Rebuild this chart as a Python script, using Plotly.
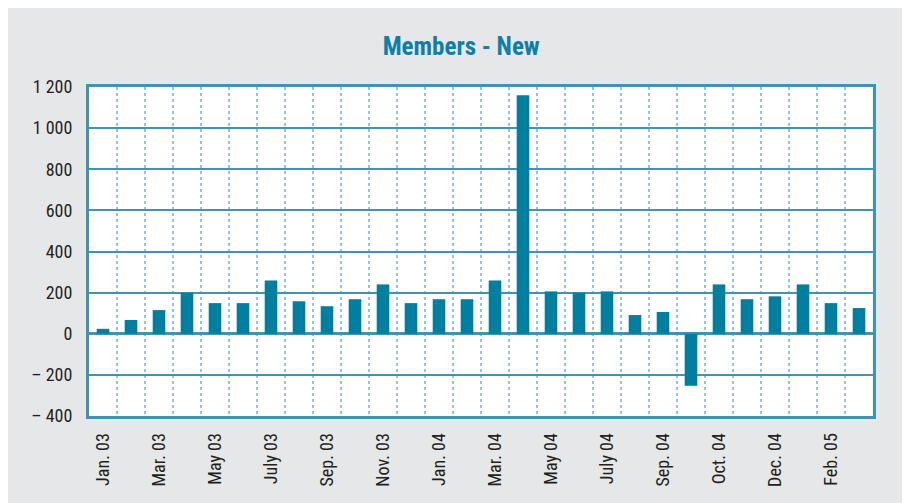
import plotly.graph_objects as go

months = ["Jan. 03", "Feb. 03", "Mar. 03", "Apr. 03", "May 03", "June 03", "July 03",
          "Aug. 03", "Sep. 03", "Oct. 03", "Nov. 03", "Dec. 03",
          "Jan. 04", "Feb. 04", "Mar. 04", "Apr. 04", "May 04", "June 04", "July 04",
          "Aug. 04", "Sep. 04", "Sep. 04 (2)", "Oct. 04", "Nov. 04", "Dec. 04",
          "Jan. 05", "Feb. 05", "Mar. 05"]
new_members = [24, 67, 115, 200, 149, 149, 259, 158, 134, 168, 240, 149,
               168, 168, 259, 1160, 206, 200, 206, 91, 106, -253, 240, 168,
               182, 240, 149, 125]
shown_labels = ["Jan. 03", "Mar. 03", "May 03", "July 03", "Sep. 03", "Nov. 03",
                "Jan. 04", "Mar. 04", "May 04", "July 04", "Sep. 04", "Oct. 04",
                "Dec. 04", "Feb. 05"]
y_ticks = [-400, -200, 0, 200, 400, 600, 800, 1000, 1200]
y_tick_text = ["\u2013 400", "\u2013 200", "0", "200", "400", "600", "800", "1 000", "1 200"]

FONT = "Liberation Sans Narrow, Arial Narrow, Roboto Condensed, sans-serif"
TEAL = "#007fa0"
GRID = "#3f93b3"

fig = go.Figure(go.Bar(
    x=months, y=new_members, marker_color=TEAL, marker_line_width=0, width=0.45,
))

fig.update_layout(
    width=910, height=503,
    margin=dict(l=81, r=45, t=79, b=95),
    paper_bgcolor="#e6e7e8", plot_bgcolor="white",
    showlegend=False,
    title=dict(text="<b>Members - New</b>", x=0.498, xanchor="center", y=0.924, yanchor="middle",
               font=dict(family=FONT, size=25, color="#0e7fa6")),
    font=dict(family=FONT, size=18, color="#231f20"),
    xaxis=dict(
        type="category", categoryorder="array", categoryarray=months,
        tickmode="array", tickvals=months,
        ticktext=[m if m in shown_labels else "" for m in months],
        tickson="boundaries", ticks="", tickangle=-90, ticklabelstandoff=7,
        showgrid=True, gridcolor="#93c4dc", griddash="dot", gridwidth=1.5,
        showline=True, linecolor=GRID, linewidth=3, mirror=True,
        range=[-0.5, len(months) - 0.5],
        tickfont=dict(family=FONT, size=18, color="#231f20"),
    ),
    yaxis=dict(
        range=[-400, 1200], tickmode="array", tickvals=y_ticks, ticktext=y_tick_text,
        showgrid=True, gridcolor=GRID, gridwidth=2,
        zeroline=True, zerolinecolor=GRID, zerolinewidth=3,
        showline=True, linecolor=GRID, linewidth=3, mirror=True,
        ticks="", ticklen=0, ticklabelstandoff=10,
        tickfont=dict(family=FONT, size=18, color="#231f20"),
    ),
)

fig.write_html("out.html")
